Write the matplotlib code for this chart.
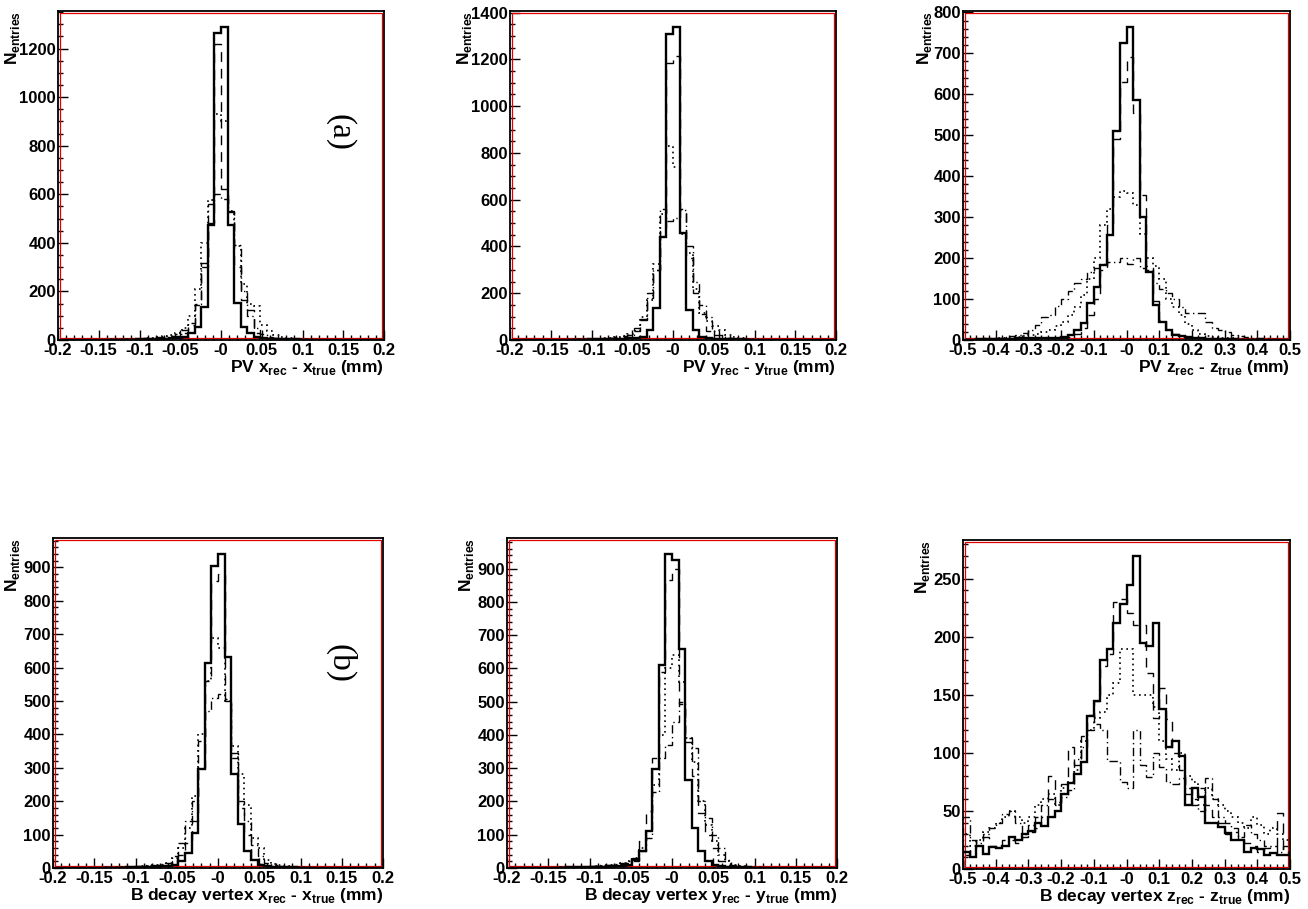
import numpy as np
import matplotlib
matplotlib.use("Agg")
import matplotlib.pyplot as plt
from matplotlib.ticker import MultipleLocator, AutoMinorLocator, FixedLocator, FixedFormatter
from matplotlib.transforms import offset_copy
from matplotlib.patches import Rectangle

plt.rcParams['font.family'] = ['Liberation Sans', 'DejaVu Sans']
plt.rcParams['font.weight'] = 'bold'
plt.rcParams['mathtext.fontset'] = 'custom'
plt.rcParams['mathtext.rm'] = 'Liberation Sans'
plt.rcParams['mathtext.bf'] = 'Liberation Sans:bold'

# ---------------- data (50 bins per histogram) ----------------
xy_range = (-0.2, 0.2)
z_range = (-0.5, 0.5)
nbins = 50
xy_ticklabels = ["-0.2", "-0.15", "-0.1", "-0.05", "-0", "0.05", "0.1", "0.15", "0.2"]
z_ticklabels = ["-0.5", "-0.4", "-0.3", "-0.2", "-0.1", "-0", "0.1", "0.2", "0.3", "0.4", "0.5"]

pvx_S = [0,0,0,0,1,0,1,1,1,2, 2,2,3,4,5,5,6,7,8,12, 28,55,137,473,1264,1290,472,151,55,28, 12,7,6,5,4,3,3,2,2,1, 1,1,0,1,0,0,1,0,0,0]
pvx_D = [0,0,1,0,1,1,1,2,2,3, 3,4,5,6,8,10,12,14,15,30, 62,144,316,480,1220,620,526,300,165,123, 28,12,9,7,5,4,3,3,2,2, 1,1,1,0,1,0,0,0,0,0]
pvx_O = [0,1,0,1,1,2,2,2,3,3, 4,5,6,7,9,12,15,20,30,50, 100,210,400,575,930,900,530,386,230,150, 140,60,35,20,12,8,5,4,3,2, 2,1,1,1,0,1,0,0,0,0]
pvx_DD = [0,0,1,1,1,1,2,2,3,3, 4,5,6,8,10,12,15,15,25,40, 70,150,300,560,600,580,530,390,200,100, 50,25,12,8,6,4,3,2,2,1, 1,1,1,0,1,0,0,0,0,0]

pvy_S = [0,0,0,1,0,1,0,1,1,1, 2,2,3,3,4,5,5,6,8,10, 14,42,135,440,1310,1340,456,128,42,14, 9,6,5,4,3,3,2,2,1,1, 1,0,1,0,0,1,0,0,0,0]
pvy_D = [0,0,0,1,1,1,1,2,2,3, 3,4,5,6,8,10,12,15,20,40, 85,200,300,480,1185,1215,560,350,200,110, 40,20,10,7,5,4,3,2,2,1, 1,1,0,1,0,0,0,0,0,0]
pvy_O = [0,0,1,0,1,1,2,2,2,3, 3,4,5,6,8,10,12,15,25,40, 100,170,327,540,830,740,455,370,220,115, 80,60,42,20,12,8,5,3,2,2, 1,1,1,0,1,0,0,0,0,0]
pvy_DD = [0,0,0,1,1,1,1,2,2,3, 3,4,5,6,7,9,11,14,20,50, 90,180,300,560,510,520,557,400,250,150, 100,40,20,10,6,4,3,2,2,1, 1,1,0,0,1,0,0,0,0,0]

pvz_S = [1,1,2,2,2,3,3,3,4,4, 4,5,5,5,6,8,12,25,41,90, 130,184,257,510,725,765,585,300,167,85, 45,25,12,10,8,5,4,3,3,2, 2,2,1,1,1,1,0,1,0,0]
pvz_D = [0,0,1,1,1,1,2,2,2,3, 3,3,4,4,5,5,8,15,30,60, 100,170,280,490,630,690,555,355,180,95, 50,25,15,10,6,5,4,3,2,2, 2,1,1,1,1,0,1,0,0,0]
pvz_O = [1,1,2,2,3,4,5,6,8,10, 12,15,20,25,35,45,60,80,110,150, 200,280,320,350,365,360,330,260,200,180, 150,100,80,60,40,25,15,10,8,6, 5,4,3,2,2,1,1,1,1,0]
pvz_DD = [2,3,3,5,5,6,8,10,12,18, 25,37,55,60,83,100,120,140,150,165, 175,185,190,190,200,185,200,175,170,140, 125,115,100,80,65,65,65,45,30,25, 20,12,10,8,6,5,4,3,2,2]

bx_S = [0,0,0,0,0,1,0,1,1,1, 1,2,2,3,3,4,5,6,8,20, 45,105,297,615,905,941,631,280,132,51, 24,8,5,4,3,2,2,1,1,1, 0,1,0,0,1,0,0,0,0,0]
bx_D = [0,0,0,0,1,0,1,1,1,2, 2,3,3,4,5,6,8,10,20,40, 75,140,300,560,860,880,505,345,180,98, 27,12,6,4,3,2,2,1,1,1, 0,1,0,0,0,0,0,0,0,0]
bx_O = [0,0,0,0,0,1,1,1,2,2, 3,3,4,5,6,8,10,15,30,60, 120,215,400,560,690,660,500,365,280,190, 90,60,25,12,8,5,3,2,2,1, 1,1,0,0,1,0,0,0,0,0]
bx_DD = [0,0,0,0,1,1,1,2,2,3, 3,4,5,6,8,10,12,15,35,75, 140,200,380,470,510,520,500,330,200,140, 70,35,15,8,5,4,3,2,1,1, 1,0,1,0,0,0,0,0,0,0]

by_S = [0,0,0,0,1,0,1,1,1,2, 2,2,3,3,4,4,5,6,8,25, 50,110,298,609,945,925,659,266,120,50, 20,8,5,4,3,2,2,1,1,1, 1,0,1,0,0,0,0,0,0,0]
by_D = [0,0,0,0,1,1,1,1,2,2, 3,3,4,5,6,8,10,12,15,20, 80,170,330,590,865,900,492,392,278,166, 100,60,20,8,4,3,2,2,1,1, 1,1,0,0,1,0,0,0,0,0]
by_O = [0,0,0,0,0,1,1,1,2,2, 3,3,4,5,6,8,10,15,20,30, 60,110,250,400,600,640,560,390,320,200, 130,80,40,20,10,6,4,3,2,1, 1,1,0,1,0,0,0,0,0,0]
by_DD = [0,0,0,0,1,1,1,2,2,3, 3,4,5,6,8,10,12,15,20,30, 50,90,230,330,370,440,500,380,360,200, 150,100,60,25,10,6,4,3,2,1, 1,1,0,0,1,0,0,0,0,0]

bz_S = [15,10,20,13,19,18,20,28,25,30, 33,40,37,45,50,65,74,82,92,132, 145,180,190,212,228,245,270,195,192,212, 138,105,110,97,55,70,62,40,40,36, 31,25,25,15,18,17,12,14,12,12]
bz_D = [12,18,25,28,20,18,25,25,22,28, 32,35,45,80,55,73,105,90,115,120, 145,175,185,230,233,221,210,210,169,130, 156,129,100,85,70,60,70,55,45,40, 30,32,25,22,20,15,18,20,48,15]
bz_O = [30,20,25,32,35,40,45,50,45,40, 45,55,60,65,55,70,75,85,110,120, 130,135,150,160,190,190,150,150,150,140, 110,95,85,100,80,75,55,70,60,55, 50,45,40,35,45,38,30,35,30,25]
bz_DD = [45,25,22,30,35,40,47,50,40,30, 38,45,55,60,58,62,68,95,105,133, 125,120,93,93,75,70,120,90,79,100, 88,75,73,78,65,55,50,78,60,45, 40,35,28,38,30,25,20,20,15,20]

xlabels = [
    r'PV x$_{\mathrm{rec}}$ - x$_{\mathrm{true}}$ (mm)',
    r'PV y$_{\mathrm{rec}}$ - y$_{\mathrm{true}}$ (mm)',
    r'PV z$_{\mathrm{rec}}$ - z$_{\mathrm{true}}$ (mm)',
    r'B decay vertex x$_{\mathrm{rec}}$ - x$_{\mathrm{true}}$ (mm)',
    r'B decay vertex y$_{\mathrm{rec}}$ - y$_{\mathrm{true}}$ (mm)',
    r'B decay vertex z$_{\mathrm{rec}}$ - z$_{\mathrm{true}}$ (mm)',
]
ylabel = r'N$_{\mathrm{entries}}$'
tags = ['(a)', '(b)']

# ---------------- layout ----------------
W, H = 1308, 909
fig = plt.figure(figsize=(W / 100, H / 100), dpi=100)

panels = [
    dict(box=(58, 11, 384, 340), rng=xy_range, tl=xy_ticklabels, ymaj=200, ymin=4, h=[pvx_S, pvx_D, pvx_O, pvx_DD], dx=-46),
    dict(box=(510, 11, 836, 340), rng=xy_range, tl=xy_ticklabels, ymaj=200, ymin=4, h=[pvy_S, pvy_D, pvy_O, pvy_DD], dx=-45),
    dict(box=(963, 11, 1290, 340), rng=z_range, tl=z_ticklabels, ymaj=100, ymin=5, h=[pvz_S, pvz_D, pvz_O, pvz_DD], dx=-38),
    dict(box=(53, 538, 383, 868), rng=xy_range, tl=xy_ticklabels, ymaj=100, ymin=5, h=[bx_S, bx_D, bx_O, bx_DD], dx=-40),
    dict(box=(507, 538, 837, 868), rng=xy_range, tl=xy_ticklabels, ymaj=100, ymin=5, h=[by_S, by_D, by_O, by_DD], dx=-40),
    dict(box=(963, 540, 1290, 869), rng=z_range, tl=z_ticklabels, ymaj=50, ymin=5, h=[bz_S, bz_D, bz_O, bz_DD], dx=-41),
]

styles = [
    dict(lw=1.7, ls='-'),
    dict(lw=1.0, ls=(0, (7, 5))),
    dict(lw=1.2, ls=(0, (1, 2.2))),
    dict(lw=1.0, ls=(0, (6, 2.5, 1, 2.5))),
]

for k, p in enumerate(panels):
    l, t, r, b = p['box']
    ax = fig.add_axes([l / W, 1 - b / H, (r - l) / W, (b - t) / H])
    edges = np.linspace(p['rng'][0], p['rng'][1], nbins + 1)
    for vals, st in zip(p['h'], styles):
        ax.stairs(vals, edges, baseline=0, fill=False, color='black',
                  linewidth=st['lw'], linestyle=st['ls'], zorder=3)
    ax.set_xlim(*p['rng'])
    ax.set_ylim(0, 1.05 * max(p['h'][0]))

    ax.xaxis.set_major_locator(FixedLocator(np.linspace(p['rng'][0], p['rng'][1], len(p['tl']))))
    ax.xaxis.set_major_formatter(FixedFormatter(p['tl']))
    ax.xaxis.set_minor_locator(AutoMinorLocator(5))
    ax.yaxis.set_major_locator(MultipleLocator(p['ymaj']))
    ax.yaxis.set_minor_locator(AutoMinorLocator(p['ymin']))
    ax.tick_params(which='both', direction='in', top=False, right=False, width=1.0, colors='black')
    ax.tick_params(which='major', length=7.5, labelsize=12)
    ax.tick_params(which='minor', length=3.5)
    ax.tick_params(axis='x', which='major', pad=2)
    ax.tick_params(axis='y', which='major', pad=1.5)
    for lab in ax.get_xticklabels() + ax.get_yticklabels():
        lab.set_fontweight('bold')

    for s in ax.spines.values():
        s.set_linewidth(1.3)
        s.set_color('black')
        s.set_zorder(5)
    fx = 2.0 / (r - l)
    fy = 2.0 / (b - t)
    ax.add_patch(Rectangle((fx, fy), 1 - 2 * fx, 1 - 2 * fy, transform=ax.transAxes,
                           fill=False, edgecolor='#e00000', linewidth=0.9, zorder=2.5))

    ax.text(0, 1, ylabel, transform=offset_copy(ax.transAxes, fig, x=p['dx'], y=0, units='dots'),
            rotation=90, ha='center', va='top', fontsize=12.5, fontweight='bold')
    ax.text(1, 0, xlabels[k], transform=offset_copy(ax.transAxes, fig, x=0, y=-32, units='dots'),
            ha='right', va='baseline', fontsize=12.5, fontweight='bold')

fig.text(340 / W, 1 - 133 / H, tags[0], rotation=-90, ha='center', va='center',
         fontsize=24, fontweight='normal', family=['Liberation Serif', 'DejaVu Serif'])
fig.text(340 / W, 1 - 663 / H, tags[1], rotation=-90, ha='center', va='center',
         fontsize=24, fontweight='normal', family=['Liberation Serif', 'DejaVu Serif'])

fig.savefig('out.png', dpi=100, facecolor='white')
